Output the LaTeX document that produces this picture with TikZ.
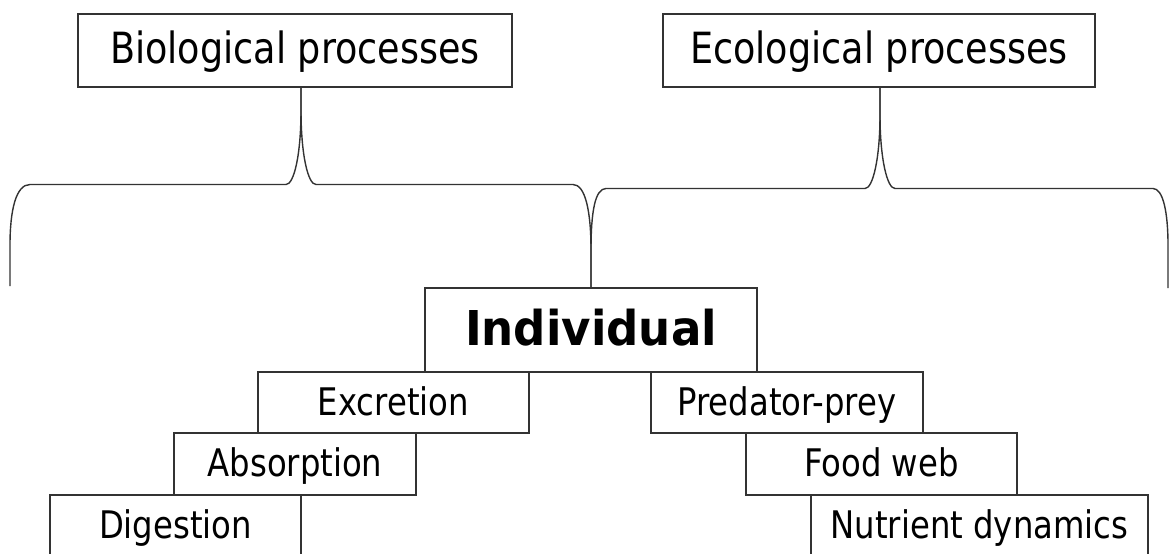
\documentclass[tikz,border=0pt]{standalone}
\usepackage{fontspec}
\setmainfont{DejaVu Sans}[FakeStretch=0.85]
\newfontfamily\indfont{DejaVu Sans}[FakeStretch=0.94]

\tikzset{
  box/.style={draw=black!80, line width=1.6pt, inner sep=0pt, outer sep=0pt,
    fill=white, text=black},
  headbox/.style={box, minimum height=73pt,
    font=\fontsize{43}{50}\selectfont, text height=31.5pt, text depth=6pt},
  itembox/.style={box, minimum height=61.5pt,
    font=\fontsize{38}{44}\selectfont, text height=27.7pt, text depth=2pt},
  mainbox/.style={box, minimum height=84pt,
    font=\indfont\bfseries\fontsize{48}{56}\selectfont, text height=35pt, text depth=5pt},
  brace/.style={draw=black!80, line width=1.4pt, line join=round, line cap=butt}
}

\begin{document}
\begin{tikzpicture}[x=1pt,y=-1pt]
\useasboundingbox (0,0) rectangle (1170,554);
\clip (0,0) rectangle (1170,554);

% top level process groups
\node[headbox, minimum width=434pt] (bio) at (295,50.5) {Biological processes};
\node[headbox, minimum width=432pt] (eco) at (879,50.5) {Ecological processes};

% central node
\node[mainbox, minimum width=332pt] (ind) at (591,330) {Individual};

% biological staircase
\node[itembox, minimum width=271pt] (exc) at (393.5,402.5) {Excretion};
\node[itembox, minimum width=242pt] (abs) at (295,464) {Absorption};
\node[itembox, minimum width=251pt] (dig) at (175.5,526) {Digestion};

% ecological staircase
\node[itembox, minimum width=272pt] (pred) at (787,402.5) {Predator-prey};
\node[itembox, minimum width=271pt] (food) at (881.5,464) {Food web};
\node[itembox, minimum width=337pt] (nut) at (979.5,526) {Nutrient dynamics};

% free ends of the braces
\coordinate (bl) at (10,286);
\coordinate (er) at (1168,288);

% brace under biological processes
\draw[brace] (bl) -- (10,245) .. controls (10,210) and (16,184.5) .. (30,184.5)
  -- (286,184.5) .. controls (294,184.5) and (301,155) .. (301,110)
  -- ([xshift=6pt]bio.south);
\draw[brace] ([xshift=6pt]bio.south) -- (301,110)
  .. controls (301,155) and (308,184.5) .. (316,184.5)
  -- (573,184.5) .. controls (585,184.5) and (591,210) .. (591,250)
  -- (ind.north);

% brace under ecological processes
\draw[brace] (ind.north) -- (591,250) .. controls (591,212) and (595,188.5) .. (606,188.5)
  -- (865,188.5) .. controls (873,188.5) and (880,158) .. (880,115)
  -- ([xshift=1pt]eco.south);
\draw[brace] ([xshift=1pt]eco.south) -- (880,115)
  .. controls (880,158) and (887,188.5) .. (895,188.5)
  -- (1153,188.5) .. controls (1163,188.5) and (1168,212) .. (1168,245)
  -- (er);
\end{tikzpicture}
\end{document}
